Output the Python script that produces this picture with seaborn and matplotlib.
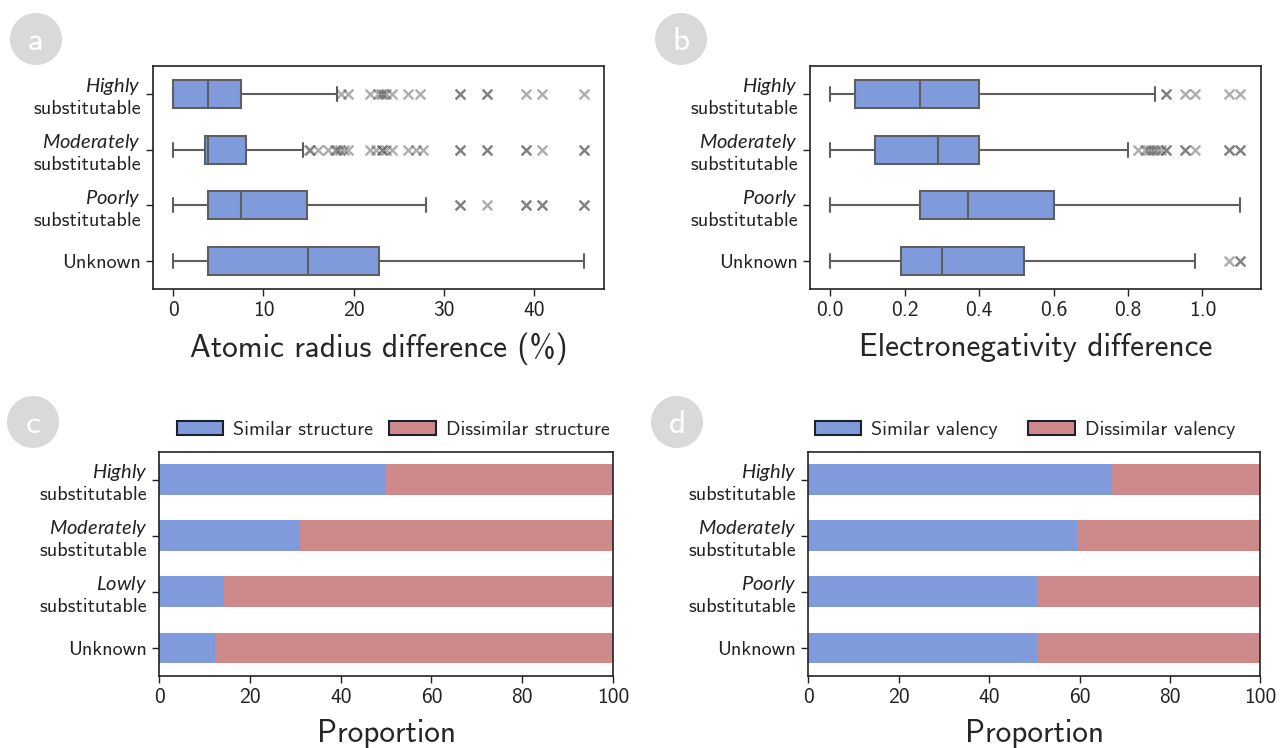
import numpy as np
import pandas as pd
import matplotlib
matplotlib.use("Agg")
import matplotlib.pyplot as plt
from matplotlib.patches import Patch, Ellipse
import seaborn as sns

# ---------------- data ----------------
groups_ab = ["Highly", "Moderately", "Poorly", "Unknown"]
labels_ab = ["$\\mathit{Highly}$\nsubstitutable", "$\\mathit{Moderately}$\nsubstitutable",
             "$\\mathit{Poorly}$\nsubstitutable", "Unknown"]
labels_c = ["$\\mathit{Highly}$\nsubstitutable", "$\\mathit{Moderately}$\nsubstitutable",
            "$\\mathit{Lowly}$\nsubstitutable", "Unknown"]
labels_d = labels_ab

# panel a: atomic radius difference (%) - box statistics per group
radius_lo = [0.0, 0.0, 0.0, 0.0]
radius_q1 = [0.0, 3.55, 3.8, 3.9]
radius_med = [3.8, 3.85, 7.5, 14.9]
radius_q3 = [7.5, 8.05, 14.85, 22.8]
radius_hi = [18.2, 14.4, 28.0, 45.5]
radius_out_highly = [18.6, 19.4, 21.8, 22.7, 23.0, 23.3, 23.6, 24.2, 26.0, 27.3,
                     31.8, 31.8, 34.8, 34.8, 39.1, 40.9, 45.5]
radius_out_moderately = [15.0, 15.2, 16.1, 17.2, 17.9, 18.2, 18.5, 18.9, 19.4, 21.8, 22.5,
                         23.1, 23.1, 23.6, 24.2, 26.0, 26.9, 27.7, 31.8, 31.8, 34.8, 34.8,
                         39.1, 39.1, 40.9, 45.5, 45.5]
radius_out_poorly = [31.8, 31.8, 34.8, 39.1, 39.1, 40.9, 40.9, 45.5, 45.5]
radius_out_unknown = []

# panel b: electronegativity difference - box statistics per group
eneg_lo = [0.0, 0.0, 0.0, 0.0]
eneg_q1 = [0.067, 0.121, 0.24, 0.189]
eneg_med = [0.24, 0.29, 0.37, 0.30]
eneg_q3 = [0.40, 0.40, 0.60, 0.52]
eneg_hi = [0.873, 0.801, 1.102, 0.981]
eneg_out_highly = [0.903, 0.903, 0.953, 0.98, 1.071, 1.101]
eneg_out_moderately = [0.827, 0.845, 0.855, 0.862, 0.87, 0.878, 0.89, 0.903, 0.903,
                       0.953, 0.953, 0.98, 1.071, 1.071, 1.101, 1.101]
eneg_out_poorly = []
eneg_out_unknown = [1.071, 1.101, 1.101]

# panel c: structure similarity (%)
similar_structure = [49.9, 31.0, 14.3, 12.3]
dissimilar_structure = [50.1, 69.0, 85.7, 87.7]

# panel d: valency similarity (%)
similar_valency = [67.1, 59.4, 50.5, 50.5]
dissimilar_valency = [32.9, 40.6, 49.5, 49.5]

# ---------------- style ----------------
sns.set_theme(style="ticks")
plt.rcParams["font.family"] = ["cmss10", "DejaVu Sans"]
plt.rcParams["mathtext.fontset"] = "custom"
plt.rcParams["mathtext.it"] = "Lato:italic"
plt.rcParams["mathtext.rm"] = "cmss10"
plt.rcParams["axes.unicode_minus"] = False
plt.rcParams["axes.linewidth"] = 1.2
plt.rcParams["axes.edgecolor"] = "#222222"
plt.rcParams["xtick.color"] = "#222222"
plt.rcParams["ytick.color"] = "#222222"

BLUE = "#7f9bdb"
RED = "#ce8a8a"
BOX_EDGE = "#5f5f5f"
OUT_C = "#4a4a4a"

W, H = 1282, 748
fig = plt.figure(figsize=(W / 100, H / 100), dpi=100)


def rect(l, r, t, b):
    return [l / W, 1 - b / H, (r - l) / W, (b - t) / H]


axa = fig.add_axes(rect(152.7, 604.3, 65.7, 289.3))
axb = fig.add_axes(rect(809.8, 1260.8, 65.7, 289.3))
axc = fig.add_axes(rect(159.2, 613.0, 451.7, 676.0))
axd = fig.add_axes(rect(808.2, 1260.4, 451.7, 676.0))

TICK_FS = 14.5
LABEL_FS = 22.5
TICK_LEN = 5
LABEL_PAD = 9


def box_panel(ax, lo, q1, med, q3, hi, outs, xlabel):
    rows = []
    for g, a, b, c, d, e in zip(groups_ab, lo, q1, med, q3, hi):
        for v in (a, b, c, d, e):
            rows.append((g, v))
    df = pd.DataFrame(rows, columns=["group", "value"])
    sns.boxplot(data=df, x="value", y="group", order=groups_ab, orient="h",
                width=0.5, color=BLUE, saturation=1, linecolor=BOX_EDGE,
                linewidth=1.5, showfliers=False, whis=1.5, ax=ax)
    orows = []
    for g, vals in zip(groups_ab, outs):
        for v in vals:
            orows.append((g, v))
    odf = pd.DataFrame(orows, columns=["group", "value"])
    sns.stripplot(data=odf, x="value", y="group", order=groups_ab, orient="h",
                  jitter=False, marker="x", color=OUT_C, linewidth=1.7,
                  size=7, alpha=0.45, ax=ax)
    ax.set_yticks(range(len(groups_ab)))
    ax.set_yticklabels(labels_ab, fontsize=TICK_FS)
    ax.set_ylabel("")
    ax.set_xlabel(xlabel, fontsize=LABEL_FS, labelpad=LABEL_PAD)
    ax.tick_params(axis="x", labelsize=TICK_FS + 1, length=TICK_LEN, width=1)
    ax.tick_params(axis="y", length=TICK_LEN, width=1)
    for s in ax.spines.values():
        s.set_visible(True)


box_panel(axa, radius_lo, radius_q1, radius_med, radius_q3, radius_hi,
          [radius_out_highly, radius_out_moderately, radius_out_poorly, radius_out_unknown],
          "Atomic radius difference (%)")
axa.set_xticks([0, 10, 20, 30, 40])

box_panel(axb, eneg_lo, eneg_q1, eneg_med, eneg_q3, eneg_hi,
          [eneg_out_highly, eneg_out_moderately, eneg_out_poorly, eneg_out_unknown],
          "Electronegativity difference")
axb.set_xticks([0.0, 0.2, 0.4, 0.6, 0.8, 1.0])
axb.set_xticklabels(["0.0", "0.2", "0.4", "0.6", "0.8", "1.0"])


def bar_panel(ax, sim, dis, labels, names):
    df = pd.DataFrame({"group": groups_ab,
                       "total": [s + d for s, d in zip(sim, dis)],
                       "sim": sim})
    sns.barplot(data=df, x="total", y="group", order=groups_ab, orient="h",
                color=RED, saturation=1, width=0.55, linewidth=0, ax=ax)
    sns.barplot(data=df, x="sim", y="group", order=groups_ab, orient="h",
                color=BLUE, saturation=1, width=0.55, linewidth=0, ax=ax)
    ax.set_xlim(0, 100)
    ax.set_xticks([0, 20, 40, 60, 80, 100])
    ax.set_yticks(range(len(groups_ab)))
    ax.set_yticklabels(labels, fontsize=TICK_FS)
    ax.set_ylabel("")
    ax.set_xlabel("Proportion", fontsize=LABEL_FS, labelpad=LABEL_PAD)
    ax.tick_params(axis="x", labelsize=TICK_FS + 1, length=TICK_LEN, width=1)
    ax.tick_params(axis="y", length=TICK_LEN, width=1)
    for s in ax.spines.values():
        s.set_visible(True)
    handles = [Patch(facecolor=BLUE, edgecolor="#1e2030", linewidth=1.5, label=names[0]),
               Patch(facecolor=RED, edgecolor="#1e2030", linewidth=1.5, label=names[1])]
    return handles


hc = bar_panel(axc, similar_structure, dissimilar_structure, labels_c,
               ["Similar structure", "Dissimilar structure"])
fig.legend(handles=hc, loc="center", bbox_to_anchor=(393 / W, 1 - 430 / H), ncol=2,
           frameon=False, fontsize=TICK_FS, handlelength=2.3, handleheight=0.63,
           handletextpad=0.5, columnspacing=0.8)

hd = bar_panel(axd, similar_valency, dissimilar_valency, labels_d,
               ["Similar valency", "Dissimilar valency"])
fig.legend(handles=hd, loc="center", bbox_to_anchor=(1025 / W, 1 - 430 / H), ncol=2,
           frameon=False, fontsize=TICK_FS, handlelength=2.3, handleheight=0.63,
           handletextpad=0.5, columnspacing=1.5)

# panel letters in grey circles
for letter, (cx, cy) in zip("abcd", [(36, 39), (681, 39), (33, 422), (677, 422)]):
    fig.patches.append(Ellipse((cx / W, 1 - cy / H), 52 / W, 52 / H,
                               transform=fig.transFigure, facecolor="#d9d9d9",
                               edgecolor="none"))
    fig.text(cx / W, 1 - (cy + 2) / H, letter, color="white", fontsize=24,
             ha="center", va="center")

fig.savefig("out.png", dpi=100)
